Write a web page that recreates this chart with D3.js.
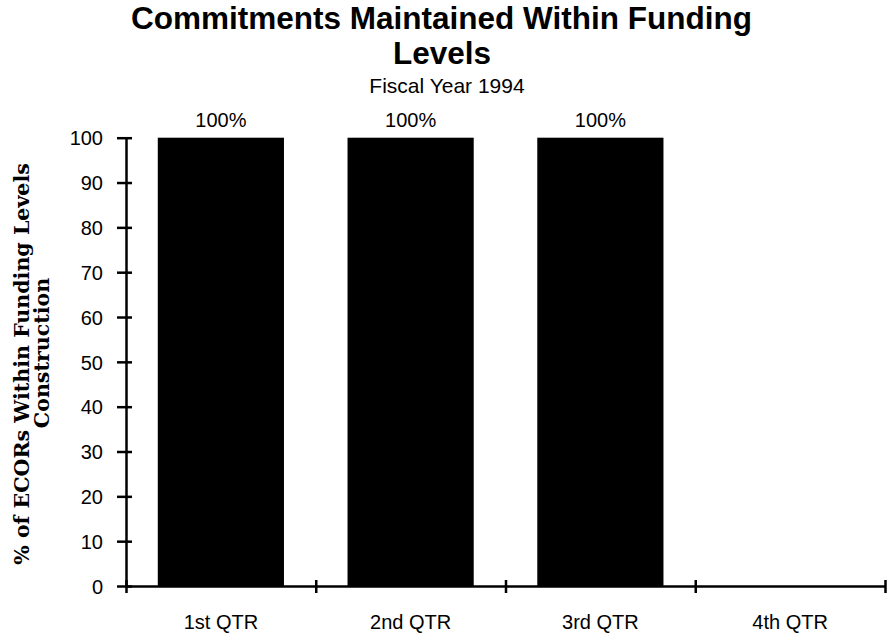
<!DOCTYPE html>
<html><head><meta charset="utf-8">
<script src="https://cdn.jsdelivr.net/npm/d3@7"></script>
<style>
body{margin:0;background:#fff;}
svg{display:block;}
text{fill:#000;}
</style></head>
<body><svg id="c" width="888" height="635"></svg>
<script>
const categories = ["1st QTR","2nd QTR","3rd QTR","4th QTR"];
const values = [100,100,100,0];
const barLabels = ["100%","100%","100%",""];
const yTicks = [0,10,20,30,40,50,60,70,80,90,100];
const titleLines = ["Commitments Maintained Within Funding","Levels"];
const subtitle = "Fiscal Year 1994";
const yLabelLines = ["% of ECORs Within Funding Levels","Construction"];

const svg = d3.select("#c");
const sans = "'Liberation Sans', Arial, Helvetica, sans-serif";
const serif = "'DejaVu Serif', 'Liberation Serif', serif";

const x0 = 126, x1 = 885, yTop = 137.7, yBot = 586;
const x = d3.scaleBand().domain(categories).range([x0,x1]).paddingInner(0.335).paddingOuter(0.1675);
const y = d3.scaleLinear().domain([0,100]).range([yBot,yTop]);
const xEdge = d3.scaleLinear().domain([0,4]).range([x0,x1]);

// title
const t1 = svg.append("text").attr("text-anchor","middle")
  .attr("x",441.5).attr("y",29)
  .style("font-family",sans).style("font-weight","bold").style("font-size","28px").text(titleLines[0]);
const w1 = t1.node().getComputedTextLength();
const tfs = 28*621/w1;
t1.style("font-size",tfs+"px");
svg.append("text").attr("text-anchor","middle")
  .attr("x",442).attr("y",64)
  .style("font-family",sans).style("font-weight","bold").style("font-size",tfs+"px").text(titleLines[1]);
svg.append("text").attr("x",447).attr("y",93).attr("text-anchor","middle")
  .style("font-family",sans).style("font-size","21px").text(subtitle);

// bars
svg.append("g").selectAll("rect").data(categories).join("rect")
  .attr("x",d=>x(d)).attr("width",x.bandwidth())
  .attr("y",(d,i)=>y(values[i])).attr("height",(d,i)=>yBot-y(values[i]))
  .attr("fill","#000");
svg.append("g").selectAll("text").data(categories).join("text")
  .attr("x",d=>x(d)+x.bandwidth()/2).attr("y",(d,i)=>y(values[i])-11)
  .attr("text-anchor","middle").style("font-family",sans).style("font-size","20px")
  .text((d,i)=>barLabels[i]);

// y axis
const ya = svg.append("g").attr("transform",`translate(${x0},0)`)
  .call(d3.axisLeft(y).tickValues(yTicks).tickSize(9).tickPadding(14).tickSizeOuter(0));
ya.select(".domain").attr("stroke","#000").attr("stroke-width",2.5);
ya.selectAll(".tick line").attr("x1",6).attr("stroke","#000").attr("stroke-width",2.5);
ya.selectAll(".tick text").style("font-family",sans).style("font-size","20px").attr("dy","0.36em");

// x axis line with boundary ticks
const xa = svg.append("g").attr("transform",`translate(0,${yBot})`)
  .call(d3.axisBottom(xEdge).tickValues([0,1,2,3,4]).tickFormat("").tickSize(7).tickSizeOuter(0));
xa.select(".domain").attr("stroke","#000").attr("stroke-width",2.5);
xa.selectAll(".tick line").attr("y1",-6).attr("stroke","#000").attr("stroke-width",2.5);

// x labels
const xl = svg.append("g").attr("transform",`translate(0,${yBot})`)
  .call(d3.axisBottom(x).tickSize(0).tickPadding(29));
xl.select(".domain").remove();
xl.selectAll(".tick text").style("font-family",sans).style("font-size","20px");

// y label
const yl = svg.append("g");
const ylc = 364;
const l1 = yl.append("text").attr("transform",`translate(29,${ylc}) rotate(-90)`).attr("text-anchor","middle")
  .style("font-family",serif).style("font-weight","bold").style("font-size","17px").text(yLabelLines[0]);
const lw = l1.node().getComputedTextLength();
const yfs = 17*402/lw;
l1.style("font-size",yfs+"px");
yl.append("text").attr("transform",`translate(49,${ylc-11}) rotate(-90)`).attr("text-anchor","middle")
  .style("font-family",serif).style("font-weight","bold").style("font-size",yfs+"px").text(yLabelLines[1]);
</script></body></html>
